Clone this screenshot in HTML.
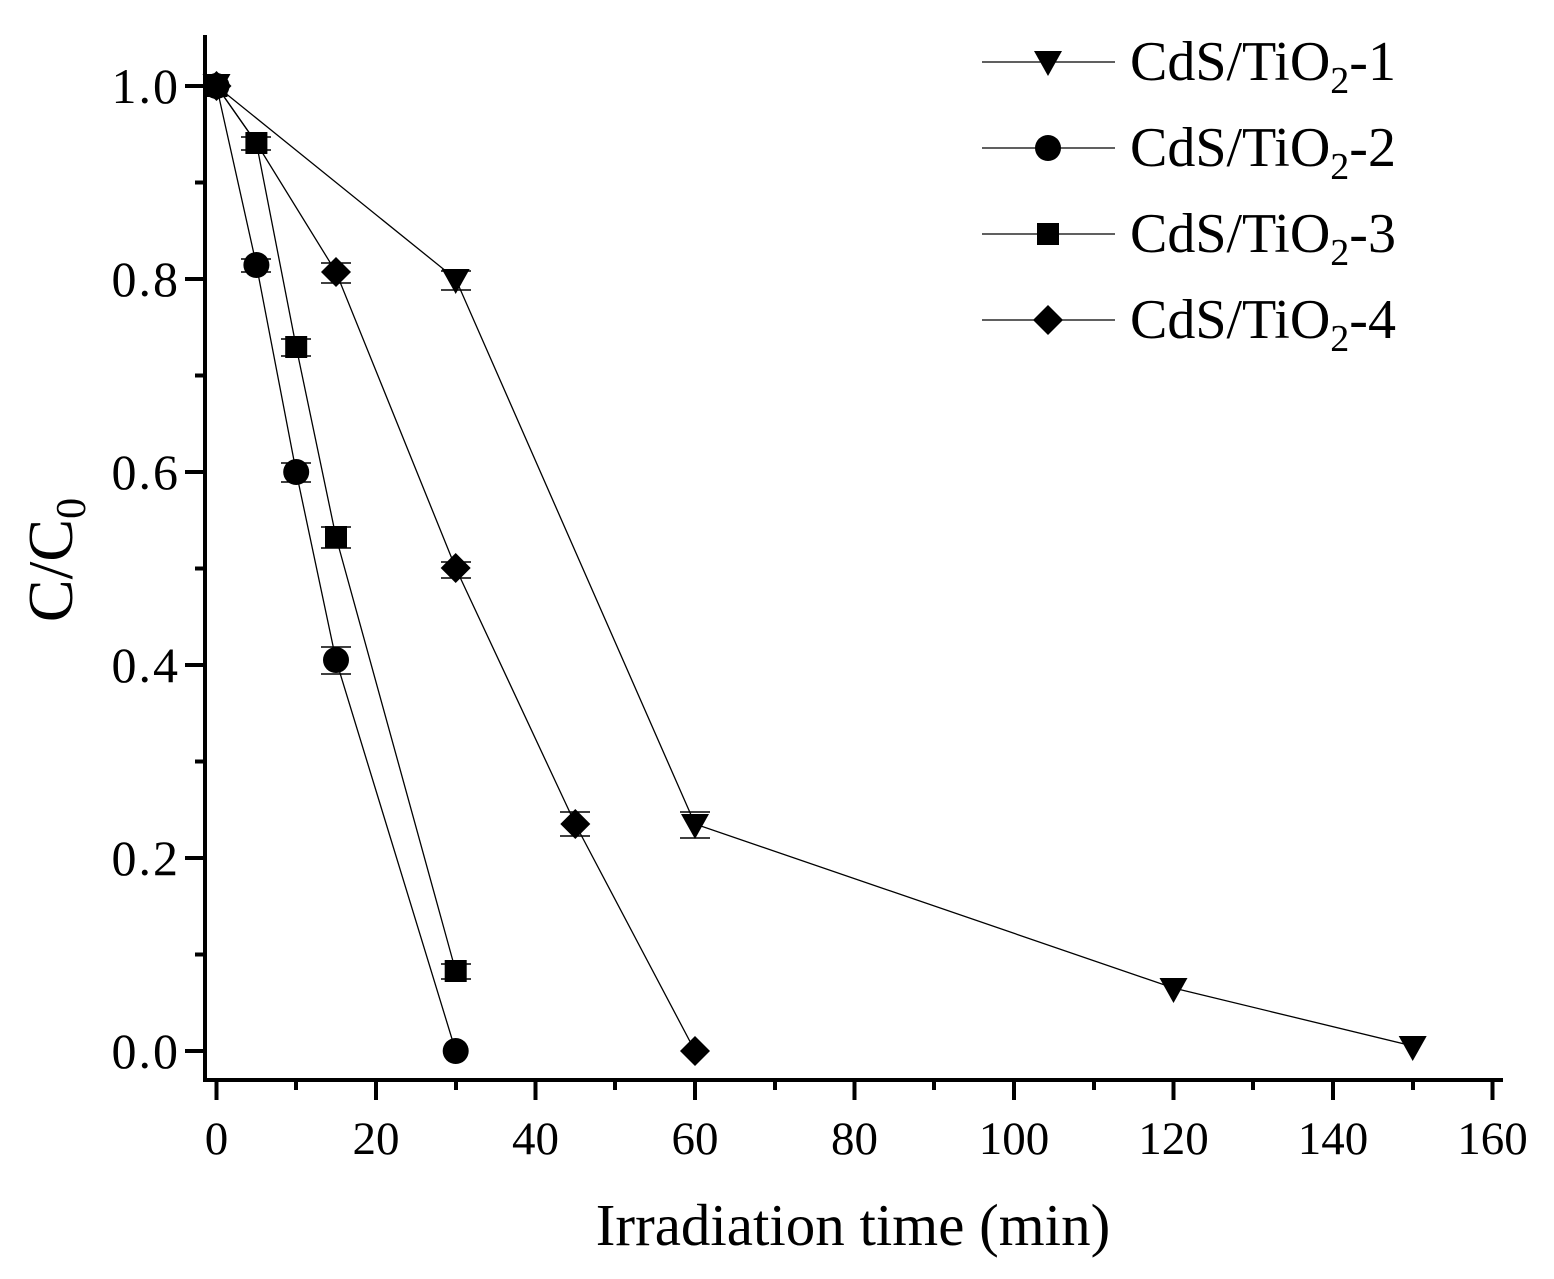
<!DOCTYPE html>
<html><head><style>body{margin:0;background:#fff}svg{display:block}</style></head>
<body>
<svg width="1554" height="1279" xmlns="http://www.w3.org/2000/svg" font-family="Liberation Serif, serif">
<defs>
<path id="tri" d="M-14,-12 L14,-12 L0,13 Z"/>
<circle id="cir" r="13"/>
<rect id="sq" x="-11" y="-11" width="22" height="22"/>
<path id="dia" d="M0,-15 L15,0 L0,15 L-15,0 Z"/>
</defs>
<g stroke="#000" stroke-width="4" fill="none">
<line x1="205" y1="35" x2="205" y2="1082"/>
<line x1="203" y1="1080" x2="1503" y2="1080"/>
</g>
<g stroke="#000" stroke-width="4">
<line x1="185" y1="86" x2="203" y2="86"/><line x1="185" y1="279" x2="203" y2="279"/><line x1="185" y1="472" x2="203" y2="472"/><line x1="185" y1="665" x2="203" y2="665"/><line x1="185" y1="858" x2="203" y2="858"/><line x1="185" y1="1051" x2="203" y2="1051"/>
<line x1="195" y1="182.5" x2="203" y2="182.5"/><line x1="195" y1="375.5" x2="203" y2="375.5"/><line x1="195" y1="568.5" x2="203" y2="568.5"/><line x1="195" y1="761.5" x2="203" y2="761.5"/><line x1="195" y1="954.5" x2="203" y2="954.5"/>
<line x1="216.5" y1="1082" x2="216.5" y2="1100"/><line x1="376" y1="1082" x2="376" y2="1100"/><line x1="535.5" y1="1082" x2="535.5" y2="1100"/><line x1="695" y1="1082" x2="695" y2="1100"/><line x1="854.5" y1="1082" x2="854.5" y2="1100"/><line x1="1014" y1="1082" x2="1014" y2="1100"/><line x1="1173.5" y1="1082" x2="1173.5" y2="1100"/><line x1="1333" y1="1082" x2="1333" y2="1100"/><line x1="1492.5" y1="1082" x2="1492.5" y2="1100"/>
<line x1="296" y1="1082" x2="296" y2="1090"/><line x1="456" y1="1082" x2="456" y2="1090"/><line x1="615" y1="1082" x2="615" y2="1090"/><line x1="775" y1="1082" x2="775" y2="1090"/><line x1="934" y1="1082" x2="934" y2="1090"/><line x1="1094" y1="1082" x2="1094" y2="1090"/><line x1="1253" y1="1082" x2="1253" y2="1090"/><line x1="1413" y1="1082" x2="1413" y2="1090"/>
</g>
<g font-size="50" text-anchor="end" letter-spacing="2">
<text x="180" y="103">1.0</text><text x="180" y="296">0.8</text><text x="180" y="489">0.6</text><text x="180" y="682">0.4</text><text x="180" y="875">0.2</text><text x="180" y="1068">0.0</text>
</g>
<g font-size="47" text-anchor="middle">
<text x="216.5" y="1154">0</text><text x="376" y="1154">20</text><text x="535.5" y="1154">40</text><text x="695" y="1154">60</text><text x="854.5" y="1154">80</text><text x="1014" y="1154">100</text><text x="1173.5" y="1154">120</text><text x="1333" y="1154">140</text><text x="1492.5" y="1154">160</text>
</g>
<text x="853" y="1245" font-size="59" text-anchor="middle">Irradiation time (min)</text>
<text transform="translate(72,560) rotate(-90)" font-size="64" text-anchor="middle">C/C<tspan font-size="42" dy="13">0</tspan></text>
<g stroke="#000" stroke-width="1.3" fill="none">
<polyline points="216.5,86 455.7,279 695,824 1173.5,988 1412.7,1046"/>
<polyline points="216.5,86 256.4,265 296.2,472 336,660 455.7,1051"/>
<polyline points="216.5,86 256.4,143 296.2,347 336,537 455.7,971"/>
<polyline points="216.5,86 256.4,143 336,272 455.7,568 575.3,824 695,1051"/>
</g>
<g stroke="#000" stroke-width="1.5">
<line x1="241" y1="137" x2="271" y2="137"/><line x1="241" y1="150" x2="271" y2="150"/>
<line x1="321" y1="263" x2="351" y2="263"/><line x1="321" y1="283" x2="351" y2="283"/>
<line x1="441" y1="271" x2="471" y2="271"/><line x1="441" y1="290" x2="471" y2="290"/>
<line x1="680" y1="812" x2="710" y2="812"/><line x1="680" y1="838" x2="710" y2="838"/>
<line x1="560" y1="812" x2="590" y2="812"/><line x1="560" y1="836" x2="590" y2="836"/>
<line x1="321" y1="647" x2="351" y2="647"/><line x1="321" y1="674" x2="351" y2="674"/>
<line x1="281" y1="463" x2="311" y2="463"/><line x1="281" y1="482" x2="311" y2="482"/>
<line x1="281" y1="339" x2="311" y2="339"/><line x1="281" y1="356" x2="311" y2="356"/>
<line x1="321" y1="527" x2="351" y2="527"/><line x1="321" y1="548" x2="351" y2="548"/>
<line x1="441" y1="562" x2="471" y2="562"/><line x1="441" y1="578" x2="471" y2="578"/>
<line x1="441" y1="964" x2="471" y2="964"/><line x1="441" y1="979" x2="471" y2="979"/>
<line x1="241" y1="259" x2="271" y2="259"/><line x1="241" y1="272" x2="271" y2="272"/>
</g>
<g fill="#000">
<use href="#tri" x="216.5" y="86"/><use href="#tri" x="455.7" y="281"/><use href="#tri" x="695" y="826"/><use href="#tri" x="1173.5" y="990"/><use href="#tri" x="1412.7" y="1048"/>
<use href="#cir" x="216.5" y="86"/><use href="#cir" x="256.4" y="265"/><use href="#cir" x="296.2" y="472"/><use href="#cir" x="336" y="660"/><use href="#cir" x="455.7" y="1051"/>
<use href="#sq" x="216.5" y="86"/><use href="#sq" x="256.4" y="143"/><use href="#sq" x="296.2" y="347"/><use href="#sq" x="336" y="537"/><use href="#sq" x="455.7" y="971"/>
<use href="#dia" x="216.5" y="86"/><use href="#dia" x="336" y="272"/><use href="#dia" x="455.7" y="568"/><use href="#dia" x="575.3" y="824"/><use href="#dia" x="695" y="1051"/>
</g>
<g stroke="#000" stroke-width="1.3">
<line x1="982" y1="62" x2="1115" y2="62"/><line x1="982" y1="148" x2="1115" y2="148"/><line x1="982" y1="234" x2="1115" y2="234"/><line x1="982" y1="320" x2="1115" y2="320"/>
</g>
<g fill="#000">
<use href="#tri" x="1048" y="63"/><use href="#cir" x="1048" y="148"/><use href="#sq" x="1048" y="234"/><use href="#dia" x="1048" y="320"/>
</g>
<g font-size="56">
<text x="1130" y="80">CdS/TiO<tspan font-size="38" dy="13">2</tspan><tspan dy="-13">-1</tspan></text>
<text x="1130" y="166">CdS/TiO<tspan font-size="38" dy="13">2</tspan><tspan dy="-13">-2</tspan></text>
<text x="1130" y="252">CdS/TiO<tspan font-size="38" dy="13">2</tspan><tspan dy="-13">-3</tspan></text>
<text x="1130" y="338">CdS/TiO<tspan font-size="38" dy="13">2</tspan><tspan dy="-13">-4</tspan></text>
</g>
</svg>
</body></html>
